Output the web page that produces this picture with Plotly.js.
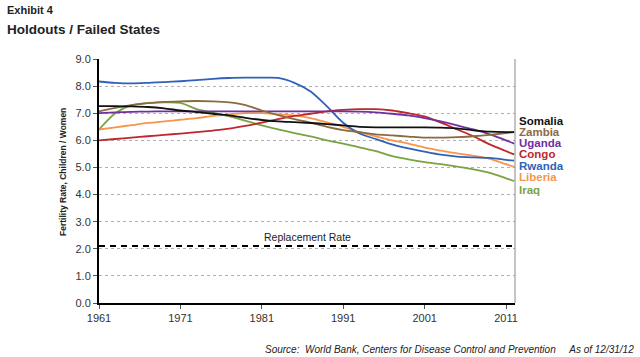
<!DOCTYPE html>
<html>
<head>
<meta charset="utf-8">
<script src="https://cdn.plot.ly/plotly-3.0.1.min.js"></script>
<style>
html,body{margin:0;padding:0;background:#fff;}
#chart{width:640px;height:357px;}
</style>
</head>
<body>
<div id="chart"></div>
<script>
var years = [1961,1963,1965,1967,1969,1971,1973,1975,1977,1979,1981,1983,1985,1987,1989,1991,1993,1995,1997,1999,2001,2003,2005,2007,2009,2011,2012];
var somalia = [7.26,7.26,7.25,7.23,7.18,7.10,7.04,6.98,6.92,6.83,6.75,6.70,6.67,6.64,6.60,6.55,6.50,6.48,6.48,6.48,6.48,6.47,6.44,6.37,6.32,6.30,6.30];
var zambia  = [7.07,7.20,7.30,7.37,7.42,7.44,7.45,7.44,7.40,7.30,7.10,6.93,6.78,6.65,6.50,6.38,6.30,6.22,6.18,6.14,6.10,6.10,6.12,6.15,6.20,6.27,6.30];
var uganda  = [7.00,7.03,7.05,7.06,7.07,7.07,7.07,7.07,7.07,7.07,7.07,7.07,7.07,7.07,7.07,7.07,7.06,7.03,6.98,6.92,6.82,6.70,6.55,6.40,6.22,6.00,5.88];
var congo   = [6.00,6.05,6.10,6.15,6.20,6.25,6.30,6.36,6.43,6.53,6.65,6.78,6.90,6.98,7.07,7.12,7.15,7.15,7.10,7.00,6.88,6.65,6.40,6.15,5.85,5.60,5.48];
var rwanda  = [8.17,8.12,8.10,8.12,8.15,8.18,8.22,8.27,8.30,8.31,8.31,8.30,8.12,7.80,7.25,6.65,6.25,6.05,5.85,5.70,5.58,5.47,5.40,5.37,5.35,5.28,5.25];
var liberia = [6.40,6.48,6.56,6.64,6.70,6.76,6.82,6.90,6.96,7.00,7.00,6.96,6.92,6.82,6.66,6.50,6.30,6.15,6.00,5.88,5.73,5.62,5.52,5.43,5.32,5.12,5.02];
var iraq    = [6.40,7.00,7.30,7.38,7.40,7.38,7.15,7.02,6.88,6.72,6.55,6.40,6.27,6.15,6.00,5.88,5.74,5.60,5.42,5.30,5.20,5.12,5.03,4.93,4.80,4.60,4.50];
var replacementRate = 2.1;
var replYears = [1961, 2012.1];
var xTicks = [1961,1971,1981,1991,2001,2011];
var yTicks = [0,1,2,3,4,5,6,7,8,9];

var names = ["Somalia","Zambia","Uganda","Congo","Rwanda","Liberia","Iraq"];
var seriesData = [somalia,zambia,uganda,congo,rwanda,liberia,iraq];
var colors = ["#111111","#8C6A3F","#7030A0","#C0262D","#2F62B8","#F7964A","#7AA343"];
var labelY = [6.70,6.29,5.90,5.48,5.04,4.63,4.15];
var order = [6,5,4,3,2,1,0];

var FONT = 'Liberation Sans, Arial, sans-serif';
var traces = [];
order.forEach(function(i){
  traces.push({
    x: years, y: seriesData[i], type:'scatter', mode:'lines', name:names[i],
    line:{color:colors[i], width:1.8, shape:'spline', smoothing:0.8},
    hoverinfo:'skip'
  });
});
traces.push({
  x: replYears, y:[replacementRate, replacementRate], type:'scatter', mode:'lines',
  line:{color:'#000', width:2, dash:'6px,5px'}, hoverinfo:'skip'
});

var annotations = [
  {text:'<b>Exhibit 4</b>', xref:'paper', yref:'paper', x:-0.226, y:1, yshift:49, xanchor:'left', yanchor:'middle',
   showarrow:false, font:{family:FONT, size:11, color:'#222'}},
  {text:'<b>Holdouts / Failed States</b>', xref:'paper', yref:'paper', x:-0.226, y:1, yshift:30, xanchor:'left', yanchor:'middle',
   showarrow:false, font:{family:FONT, size:13.5, color:'#222'}},
  {text:'Replacement Rate', xref:'x', yref:'y', x:1986.6, y:replacementRate, yshift:9, yanchor:'middle', xanchor:'center',
   showarrow:false, font:{family:FONT, size:10.5, color:'#222'}},
  {text:'<b>Fertility Rate, Children / Women</b>', xref:'paper', yref:'paper', x:0, xshift:-36, y:0.5, yshift:9,
   textangle:-90, showarrow:false, xanchor:'center', yanchor:'middle',
   font:{family:FONT, size:8.5, color:'#222'}},
  {text:'<i>Source:  World Bank, Centers for Disease Control and Prevention     As of 12/31/12</i>', xref:'paper', yref:'paper',
   x:1, xshift:121, y:0, yshift:-46, xanchor:'right', yanchor:'middle', showarrow:false,
   font:{family:FONT, size:10, color:'#222'}}
];
names.forEach(function(n,i){
  annotations.push({text:'<b>'+n+'</b>', xref:'paper', yref:'y', x:1, xshift:3, y:labelY[i],
    xanchor:'left', yanchor:'middle', showarrow:false, borderpad:0,
    font:{family:FONT, size:11.5, color:colors[i]}});
});

var layout = {
  width:640, height:357,
  margin:{l:99, r:125, t:59, b:54, pad:0},
  paper_bgcolor:'#fff', plot_bgcolor:'#fff',
  showlegend:false,
  font:{family:FONT, size:11, color:'#333'},
  xaxis:{range:[1961, 2012.1], tickvals:xTicks, ticktext:xTicks.map(String), ticks:'outside', ticklen:4, tickcolor:'#555',
         showgrid:false, zeroline:false, showline:true, linecolor:'#000', linewidth:2,
         tickfont:{family:FONT, size:11, color:'#333'}},
  yaxis:{range:[0,9], tickvals:yTicks, ticktext:yTicks.map(function(v){return v.toFixed(1);}), ticks:'outside', ticklen:4, tickcolor:'#555',
         showgrid:true, gridcolor:'#b0b0b0', griddash:'dot', gridwidth:1, zeroline:false, showline:true, linecolor:'#000', linewidth:2,
         tickfont:{family:FONT, size:11, color:'#333'}},
  shapes:[
    {type:'line', xref:'paper', yref:'paper', x0:1, x1:1, y0:0, y1:1, line:{color:'#888', width:1}}
  ],
  annotations:annotations
};

Plotly.newPlot('chart', traces, layout, {staticPlot:true, displayModeBar:false});
</script>
</body>
</html>
